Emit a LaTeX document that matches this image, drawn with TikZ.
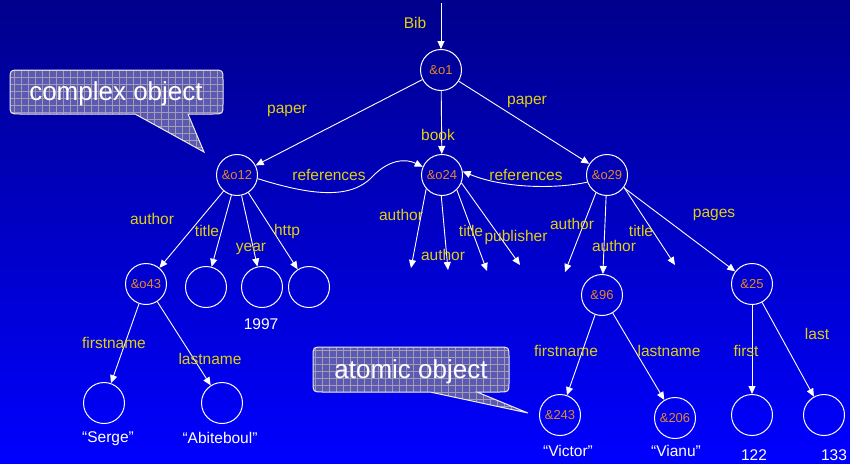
\documentclass[tikz,border=0pt]{standalone}
\usepackage{fontspec}
\setmainfont{Liberation Sans}
\usetikzlibrary{arrows.meta}

\definecolor{bgtop}{RGB}{0,0,140}
\definecolor{bgbot}{RGB}{0,0,255}
\definecolor{lblyellow}{RGB}{225,208,20}
\definecolor{oidorange}{RGB}{230,135,40}
\definecolor{callfill}{RGB}{90,90,180}
\definecolor{callgrid}{RGB}{165,155,175}

\begin{document}
\begin{tikzpicture}[
  x=1pt, y=-1pt,
  obj/.style={circle, draw=white, line width=1pt, minimum size=41pt, inner sep=0pt, font=\fontsize{13}{13}\selectfont, text=oidorange},
  lbl/.style={font=\fontsize{15.5}{16}\selectfont, text=lblyellow, inner sep=0pt},
  val/.style={font=\fontsize{15.5}{16}\selectfont, text=white, inner sep=0pt},
  link/.style={draw=white, line width=0.9pt, -{Triangle[length=8pt,width=7pt]}},
  callout/.style={fill=callfill, draw=white!85!gray, line width=1pt,
    path picture={\draw[callgrid, line width=0.4pt, step=7pt] (path picture bounding box.south west) grid (path picture bounding box.north east);}},
  ctext/.style={font=\fontsize{26}{26}\selectfont, text=white, inner sep=0pt},
]
% Hintergrund
\useasboundingbox (0,0) rectangle (850,463);
\shade[top color=bgtop, bottom color=bgbot] (0,0) rectangle (850,463);

% Objekte
\node[obj] (o1)   at (441,70)  {\&o1};
\node[obj] (o12)  at (237,175) {\&o12};
\node[obj] (o24)  at (442,175) {\&o24};
\node[obj] (o29)  at (607,175) {\&o29};
\node[obj] (o43)  at (146,284) {\&o43};
\node[obj] (ti12) at (206,287) {};
\node[obj] (yr12) at (262,287) {};
\node[obj] (ht12) at (309,287) {};
\node[obj] (o96)  at (602,295) {\&96};
\node[obj] (o25)  at (752,284) {\&25};
\node[obj] (s43)  at (104,403) {};
\node[obj] (a43)  at (222,403) {};
\node[obj] (o243) at (560,415) {\&243};
\node[obj] (o206) at (675,418) {\&206};
\node[obj] (p122) at (752,415) {};
\node[obj] (p133) at (824,415) {};

% Werte
\node[val] (v1997) at (261,324) {1997};
\node[val] (vserge) at (108,439) {“Serge”};
\node[val] (vabit) at (220,438) {“Abiteboul”};
\node[val] (vvict) at (568,451) {“Victor”};
\node[val] (vvian) at (676,451) {“Vianu”};
\node[val] (v122) at (754,455) {122};
\node[val] (v133) at (834,455) {133};

% offene Kanten
\coordinate (bibtop) at (441,3);
\coordinate (e24a) at (411,268);
\coordinate (e24b) at (448,270);
\coordinate (e24c) at (487,271);
\coordinate (e24d) at (520,265);
\coordinate (e29a) at (565,272);
\coordinate (e29b) at (675,265);

% Kanten
\draw[link] (bibtop) -- (o1);
\draw[link] (o1) -- (o12);
\draw[link] (o1) -- (o24);
\draw[link] (o1) -- (o29);
\draw[link] (o12) -- (o43);
\draw[link] (o12) -- (ti12);
\draw[link] (o12) -- (yr12);
\draw[link] (o12) -- (ht12);
\draw[link] (o24.221) -- (e24a);
\draw[link] (o24.268) -- (e24b);
\draw[link] (o24.315) -- (e24c);
\draw[link] (o24.338) -- (e24d);
\draw[link] (o29.238) -- (e29a);
\draw[link] (o29) -- (o96);
\draw[link] (o29.324) -- (e29b);
\draw[link] (o29) -- (o25);
\draw[link] (o43) -- (s43);
\draw[link] (o43) -- (a43);
\draw[link] (o96) -- (o243);
\draw[link] (o96) -- (o206);
\draw[link] (o25) -- (p122);
\draw[link] (o25) -- (p133);
\draw[link] (o12.350) .. controls (310,195) and (350,200) .. (372,177) .. controls (388,160) and (405,158) .. (o24.157);
\draw[link] (o29.200) .. controls (550,190) and (500,187) .. (o24.10);

% Kantenbeschriftungen
\node[lbl] (lbib) at (415,23) {Bib};
\node[lbl] (lpap1) at (287,111) {paper};
\node[lbl] (lbook) at (438,135) {book};
\node[lbl] (lpap2) at (527,102) {paper};
\node[lbl] (lref1) at (329,175) {references};
\node[lbl] (lref2) at (526,175) {references};
\node[lbl] (lau12) at (152,219) {author};
\node[lbl] (lti12) at (207,231) {title};
\node[lbl] (lyr12) at (251,249) {year};
\node[lbl] (lht12) at (287,231) {http};
\node[lbl] (lau24a) at (401,215) {author};
\node[lbl] (lau24b) at (443,255) {author};
\node[lbl] (lti24) at (471,231) {title};
\node[lbl] (lpub24) at (516,237) {publisher};
\node[lbl] (lau29a) at (572,224) {author};
\node[lbl] (lau29b) at (614,246) {author};
\node[lbl] (lti29) at (641,231) {title};
\node[lbl] (lpg29) at (714,215) {pages};
\node[lbl] (lfn43) at (114,343) {firstname};
\node[lbl] (lln43) at (210,359) {lastname};
\node[lbl] (lfn96) at (566,351) {firstname};
\node[lbl] (lln96) at (669,351) {lastname};
\node[lbl] (lfst) at (746,351) {first};
\node[lbl] (llst) at (817,334) {last};

% Sprechblasen
\draw[callout] (20,70) -- (213,70) .. controls (223,70) .. (223,80) -- (223,104) .. controls (223,114) .. (213,114)
  -- (188,114) -- (204,152) -- (135,114) -- (20,114) .. controls (10,114) .. (10,104) -- (10,80) .. controls (10,70) .. (20,70) -- cycle;
\node[ctext] (ccomplex) at (116,94) {complex object};
\draw[callout] (323,347) -- (499,347) .. controls (509,347) .. (509,357) -- (509,382) .. controls (509,392) .. (499,392)
  -- (477,392) -- (528,413) -- (430,392) -- (323,392) .. controls (313,392) .. (313,382) -- (313,357) .. controls (313,347) .. (323,347) -- cycle;
\node[ctext] (catomic) at (411,372) {atomic object};
\end{tikzpicture}
\end{document}
